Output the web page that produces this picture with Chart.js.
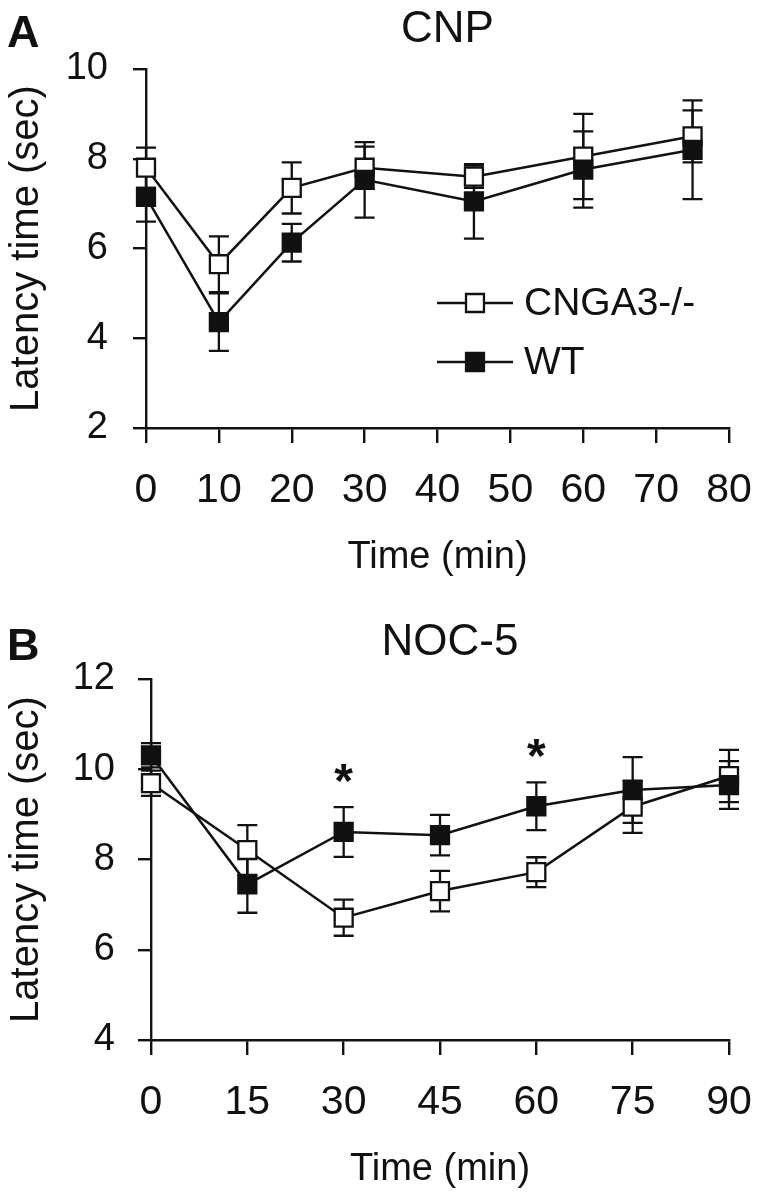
<!DOCTYPE html>
<html><head><meta charset="utf-8">
<script src="https://cdn.jsdelivr.net/npm/chart.js@4/dist/chart.umd.min.js"></script>
<style>
html,body{margin:0;padding:0;background:#fff;}
#wrap{position:relative;width:757px;height:1199px;background:#fff;}
.pane{position:absolute;left:0;width:757px;}
canvas{display:block;}
</style></head><body>
<div id="wrap">
<div class="pane" style="top:0;height:590px"><canvas id="cA" width="757" height="590"></canvas></div>
<div class="pane" style="top:590px;height:609px"><canvas id="cB" width="757" height="609"></canvas></div>
</div>
<script>
// ---- Panel A: CNP ----
const timesA   = [0, 10, 20, 30, 45, 60, 75];
const cngaA    = [7.8, 5.65, 7.35, 7.8, 7.6, 8.05, 8.5];
const cngaAErr = [0.45, 0.62, 0.57, 0.47, 0.25, 0.95, 0.58];
const wtA      = [7.15, 4.36, 6.13, 7.53, 7.05, 7.76, 8.2];
const wtAErr   = [0.55, 0.64, 0.42, 0.84, 0.83, 0.85, 1.1];
const xTicksA  = [0, 10, 20, 30, 40, 50, 60, 70, 80];
const yTicksA  = [2, 4, 6, 8, 10];

// ---- Panel B: NOC-5 ----
const timesB   = [0, 15, 30, 45, 60, 75, 90];
const cngaB    = [9.69, 8.21, 6.71, 7.3, 7.72, 9.17, 9.85];
const cngaBErr = [0.28, 0.55, 0.4, 0.45, 0.33, 0.58, 0.58];
const wtB      = [10.31, 7.45, 8.61, 8.54, 9.18, 9.54, 9.65];
const wtBErr   = [0.27, 0.63, 0.55, 0.45, 0.53, 0.73, 0.53];
const xTicksB  = [0, 15, 30, 45, 60, 75, 90];
const yTicksB  = [4, 6, 8, 10, 12];
const sigTimesB  = [30, 60];
const sigLevelsB = [10.0, 10.55];

const seriesNames = ['CNGA3-/-', 'WT'];

const INK = '#111111';
const SANS = '"Liberation Sans", Arial, Helvetica, sans-serif';
const NARROW = '"Liberation Sans Narrow", "Arial Narrow", "Liberation Sans", Arial, sans-serif';

const errorBars = {
  id: 'errorBars',
  beforeDatasetsDraw(chart) {
    const {ctx} = chart;
    const x = chart.scales.x, y = chart.scales.y;
    ctx.save();
    ctx.strokeStyle = INK;
    ctx.lineWidth = 2.3;
    chart.data.datasets.forEach(ds => {
      if (!ds.errors) return;
      ds.data.forEach((pt, i) => {
        const px = x.getPixelForValue(pt.x);
        const yt = y.getPixelForValue(pt.y + ds.errors[i]);
        const yb = y.getPixelForValue(pt.y - ds.errors[i]);
        ctx.beginPath();
        ctx.moveTo(px, yt); ctx.lineTo(px, yb);
        ctx.moveTo(px - 10, yt); ctx.lineTo(px + 10, yt);
        ctx.moveTo(px - 10, yb); ctx.lineTo(px + 10, yb);
        ctx.stroke();
      });
    });
    ctx.restore();
  }
};

const annot = {
  id: 'annot',
  afterDraw(chart, args, o) {
    const {ctx, chartArea} = chart;
    ctx.save();
    ctx.fillStyle = INK;
    ctx.textBaseline = 'alphabetic';
    // panel letter
    ctx.font = 'bold 45px ' + SANS;
    ctx.textAlign = 'left';
    ctx.fillText(o.letter, 7, o.letterBaseline);
    // title
    ctx.font = '44px ' + SANS;
    ctx.textAlign = 'center';
    ctx.fillText(o.title, (chartArea.left + chartArea.right) / 2 + 10, o.titleBaseline);
    // significance stars
    if (o.stars) {
      const x = chart.scales.x, y = chart.scales.y;
      ctx.font = 'bold 48px ' + SANS;
      o.stars.t.forEach((t, i) => {
        ctx.fillText('*', x.getPixelForValue(t), y.getPixelForValue(o.stars.v[i]) + 0.57 * 48);
      });
    }
    // legend
    if (o.legend) {
      const rows = o.legend.rows;
      chart.data.datasets.forEach((ds, i) => {
        const ry = rows[i];
        ctx.strokeStyle = INK;
        ctx.lineWidth = 2.5;
        ctx.beginPath();
        ctx.moveTo(o.legend.x0, ry); ctx.lineTo(o.legend.x1, ry);
        ctx.stroke();
        ctx.fillStyle = ds.pointBackgroundColor;
        ctx.strokeStyle = INK;
        ctx.lineWidth = 2.3;
        Chart.helpers.drawPoint(ctx, {pointStyle: 'rect', radius: ds.pointRadius, borderWidth: 2.3, rotation: 0},
          (o.legend.x0 + o.legend.x1) / 2, ry);
        ctx.fillStyle = INK;
        ctx.font = '39px ' + SANS;
        ctx.textAlign = 'left';
        ctx.textBaseline = 'middle';
        ctx.fillText(ds.label, o.legend.tx, ry + 1);
      });
    }
    ctx.restore();
  }
};

function toPts(ts, vs) { return ts.map((t, i) => ({x: t, y: vs[i]})); }

function makeDatasets(times, cnga, cngaErr, wt, wtErr) {
  const common = {
    borderColor: INK, borderWidth: 2.5, pointStyle: 'rect', pointRadius: 12.7,
    pointBorderColor: INK, pointBorderWidth: 2.3, pointHoverRadius: 12.7,
    tension: 0, fill: false, clip: false
  };
  return [
    Object.assign({}, common, {label: seriesNames[0], data: toPts(times, cnga), errors: cngaErr,
      pointBackgroundColor: '#ffffff', backgroundColor: '#ffffff', order: 2}),
    Object.assign({}, common, {label: seriesNames[1], data: toPts(times, wt), errors: wtErr,
      pointBackgroundColor: INK, backgroundColor: INK, order: 1})
  ];
}

function axisCommon() {
  return {
    grid: {drawOnChartArea: false, drawTicks: true, color: INK, lineWidth: 2.4},
    border: {display: true, color: INK, width: 2.4}
  };
}

function makeChart(id, cfg) {
  const xa = axisCommon(), ya = axisCommon();
  return new Chart(document.getElementById(id), {
    type: 'line',
    data: {datasets: cfg.datasets},
    options: {
      responsive: false, animation: false, devicePixelRatio: 1,
      layout: {padding: cfg.padding},
      plugins: {legend: {display: false}, tooltip: {enabled: false}, annot: cfg.annot},
      scales: {
        x: Object.assign(xa, {
          type: 'linear', min: cfg.xTicks[0], max: cfg.xTicks[cfg.xTicks.length - 1],
          afterBuildTicks(s) { s.ticks = cfg.xTicks.map(v => ({value: v})); },
          grid: Object.assign(xa.grid, {tickLength: 15}),
          ticks: {color: INK, font: {family: NARROW, size: 41}, padding: 23, maxRotation: 0, autoSkip: false},
          title: {display: true, text: 'Time (min)', color: INK, font: {family: SANS, size: 38}, padding: {top: 0, bottom: 0}},
          afterFit(s) { s.height = cfg.xHeight; s.paddingLeft = 0; s.paddingRight = 0; }
        }),
        y: Object.assign(ya, {
          type: 'linear', min: cfg.yTicks[0], max: cfg.yTicks[cfg.yTicks.length - 1],
          afterBuildTicks(s) { s.ticks = cfg.yTicks.map(v => ({value: v})); },
          grid: Object.assign(ya.grid, {tickLength: 13}),
          ticks: {color: INK, font: {family: SANS, size: 38}, padding: cfg.yPad},
          title: {display: true, text: 'Latency time (sec)', color: INK, font: {family: SANS, size: 40}, padding: {top: 3, bottom: 0}},
          afterFit(s) { s.width = cfg.yWidth; s.paddingTop = 0; s.paddingBottom = 0; }
        })
      }
    },
    plugins: [errorBars, annot]
  });
}

makeChart('cA', {
  datasets: makeDatasets(timesA, cngaA, cngaAErr, wtA, wtAErr),
  xTicks: xTicksA, yTicks: yTicksA,
  padding: {top: 69, left: 0, right: 28, bottom: 10},
  xHeight: 152, yWidth: 146, yPad: 25,
  annot: {letter: 'A', letterBaseline: 47, title: 'CNP', titleBaseline: 42,
    legend: {x0: 437, x1: 513, tx: 524, rows: [303, 362]}}
});

makeChart('cB', {
  datasets: makeDatasets(timesB, cngaB, cngaBErr, wtB, wtBErr),
  xTicks: xTicksB, yTicks: yTicksB,
  padding: {top: 89, left: 0, right: 28, bottom: 7},
  xHeight: 152, yWidth: 151, yPad: 23,
  annot: {letter: 'B', letterBaseline: 70, title: 'NOC-5', titleBaseline: 65,
    stars: {t: sigTimesB, v: sigLevelsB}}
});
</script>
</body></html>
